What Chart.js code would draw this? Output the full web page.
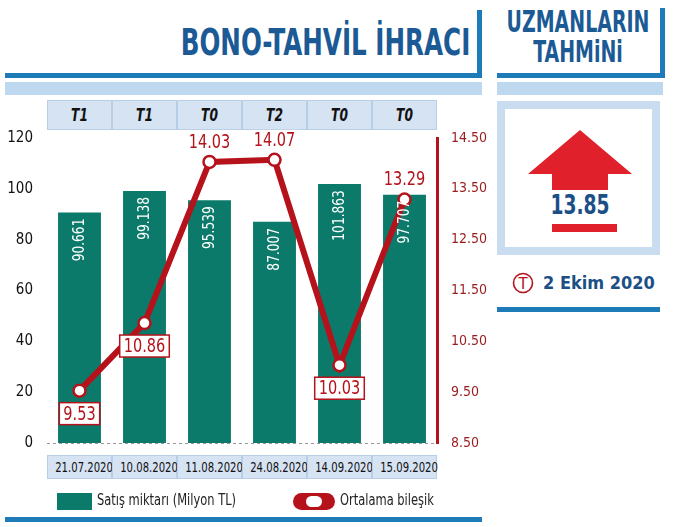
<!DOCTYPE html>
<html><head><meta charset="utf-8">
<script src="https://cdn.jsdelivr.net/npm/chart.js@4"></script>
<style>
body{margin:0;width:675px;height:527px;position:relative;background:#fff;overflow:hidden;font-family:'DejaVu Sans Condensed','Roboto',sans-serif}
.a{position:absolute}
#c{position:absolute;left:0;top:0}
.title{color:#1b5a95;font-weight:bold;font-size:38px}
.cell{position:absolute;background:#d6e3f3;border:1px solid #b8cde6;box-sizing:border-box;text-align:center;white-space:nowrap}
.cell span{display:inline-block;transform:scaleX(0.8)}
</style></head><body>
<div class="a title" style="right:205px;top:20px;transform:scaleX(0.72);transform-origin:right center;white-space:nowrap">BONO-TAHVİL İHRACI</div>
<div class="a" style="left:5px;top:73px;width:477px;height:5px;background:#1d7bb8"></div>
<div class="a" style="left:477px;top:10px;width:5px;height:68px;background:#1d7bb8"></div>
<div class="a" style="left:5px;top:82px;width:477px;height:13px;background:#bdd8ef"></div>
<div class="a title" style="left:457px;top:6px;width:242px;text-align:center;font-size:31px;line-height:30px;transform:scaleX(0.68)">UZMANLARIN<br>TAHMiNi</div>
<div class="a" style="left:497px;top:73px;width:166px;height:5px;background:#1d7bb8"></div>
<div class="a" style="left:660px;top:8px;width:5px;height:70px;background:#1d7bb8"></div>
<div class="a" style="left:497px;top:82px;width:166px;height:13px;background:#bdd8ef"></div>
<div class="a" style="left:497px;top:101px;width:163px;height:154px;background:#c9dcf0"></div>
<div class="a" style="left:505px;top:109px;width:147px;height:138px;background:#fff"></div>
<svg class="a" style="left:528px;top:130px" width="104" height="110"><polygon points="52,0 104,44 80,44 80,60 24,60 24,44 0,44" fill="#e0202a"/><rect x="24" y="94" width="65" height="8" fill="#e0202a"/></svg>
<div class="a" style="left:528px;top:190px;width:104px;text-align:center;color:#1b4f86;font-weight:bold;font-size:26px;transform:scaleX(0.8)">13.85</div>
<svg class="a" style="left:512px;top:272px" width="22" height="22"><circle cx="11" cy="11" r="9.5" fill="none" stroke="#b5121b" stroke-width="1.6"/><text x="11" y="17" text-anchor="middle" font-size="15" fill="#b5121b" font-family="DejaVu Sans">T</text></svg>
<div class="a" style="left:543px;top:272px;color:#1b4f86;font-weight:bold;font-size:18px">2 Ekim 2020</div>
<div class="a" style="left:497px;top:307px;width:163px;height:5px;background:#1d7bb8"></div>
<div id="cells"></div>
<canvas id="c" width="675" height="527"></canvas>
<div class="a" style="left:57px;top:493px;width:35px;height:17px;background:#0b7a6a"></div>
<div class="a" style="left:97px;top:491px;font-size:15px;color:#222;transform:scaleX(0.85);transform-origin:left;white-space:nowrap">Satış miktarı (Milyon TL)</div>
<div class="a" style="left:293px;top:493px;width:42px;height:17px;border-radius:9px;background:#b5121b"></div>
<div class="a" style="left:306px;top:496px;width:16px;height:11px;border-radius:6px;background:#fff"></div>
<div class="a" style="left:340px;top:491px;font-size:15px;color:#222;transform:scaleX(0.85);transform-origin:left;white-space:nowrap">Ortalama bileşik</div>
<div class="a" style="left:5px;top:517px;width:477px;height:5px;background:#1d7bb8"></div>
<script>
const dates = ['21.07.2020','10.08.2020','11.08.2020','24.08.2020','14.09.2020','15.09.2020'];
const terms = ['T1','T1','T0','T2','T0','T0'];
const sales = [90.661, 99.138, 95.539, 87.007, 101.863, 97.707];
const rates = [9.53, 10.86, 14.03, 14.07, 10.03, 13.29];
const leftTicks = [0, 20, 40, 60, 80, 100, 120];
const rightTicks = [8.5, 9.5, 10.5, 11.5, 12.5, 13.5, 14.5];

const font = "'DejaVu Sans Condensed','Roboto',sans-serif";
const RED = '#b5121b';

const cellsPlugin = {
  id: 'cells',
  afterLayout(ch) {
    const a = ch.chartArea, w = (a.right - a.left) / dates.length;
    let html = '';
    dates.forEach((d, i) => {
      const l = a.left + i * w;
      html += `<div class="cell" style="left:${l}px;top:455px;width:${w}px;height:24px;font-size:14px;line-height:22px;color:#111"><span>${d}</span></div>`;
      html += `<div class="cell" style="left:${l}px;top:100px;width:${w}px;height:30px;font-size:17px;line-height:28px;font-weight:bold;font-style:italic;color:#111"><span>${terms[i]}</span></div>`;
    });
    document.getElementById('cells').innerHTML = html;
  },
  afterDatasetsDraw(ch) {
    const g = ch.ctx;
    const a = ch.chartArea;
    g.save();
    g.setLineDash([3, 3]); g.strokeStyle = '#999'; g.lineWidth = 1;
    g.beginPath(); g.moveTo(a.left, a.bottom + 0.5); g.lineTo(a.right, a.bottom + 0.5); g.stroke();
    g.setLineDash([]);
    const bars = ch.getDatasetMeta(0).data;
    g.fillStyle = '#fff'; g.font = `16px ${font}`; g.textAlign = 'right'; g.textBaseline = 'middle';
    bars.forEach((b, i) => {
      g.save(); g.translate(b.x, b.y + 6); g.rotate(-Math.PI / 2); g.scale(0.85, 1);
      g.fillText(sales[i].toFixed(3), 0, 0); g.restore();
    });
    const pts = ch.getDatasetMeta(1).data;
    g.font = `19px ${font}`; g.textAlign = 'center';
    pts.forEach((p, i) => {
      const t = rates[i].toFixed(2);
      const boxed = i === 0 || i === 1 || i === 4;
      const y = boxed ? p.y + 23 : p.y - 20;
      const w = g.measureText(t).width * 0.85 + 8;
      if (boxed) {
        g.fillStyle = '#fff'; g.strokeStyle = RED; g.lineWidth = 1.5;
        g.fillRect(p.x - w / 2, y - 11, w, 22); g.strokeRect(p.x - w / 2, y - 11, w, 22);
      } else {
        g.fillStyle = 'rgba(255,255,255,0.85)';
        g.fillRect(p.x - w / 2, y - 10, w, 20);
      }
      g.save(); g.translate(p.x, y + 1); g.scale(0.85, 1);
      g.fillStyle = RED; g.fillText(t, 0, 0); g.restore();
    });
    g.restore();
  }
};

new Chart(document.getElementById('c'), {
  data: {
    labels: dates,
    datasets: [
      { type: 'bar', data: sales, backgroundColor: '#0b7a6a', barPercentage: 0.66, categoryPercentage: 1, yAxisID: 'y', order: 2 },
      { type: 'line', data: rates, borderColor: RED, borderWidth: 6, tension: 0, yAxisID: 'y1', order: 1,
        pointRadius: 6, pointBackgroundColor: '#fff', pointBorderColor: RED, pointBorderWidth: 2.5 }
    ]
  },
  options: {
    responsive: false, animation: false,
    layout: { padding: { left: 5, right: 183, top: 138, bottom: 84 } },
    plugins: { legend: { display: false }, tooltip: { enabled: false } },
    scales: {
      x: { display: false, offset: true },
      y: {
        min: 0, max: 120, position: 'left',
        afterFit: (s) => { s.width = 42; },
        afterBuildTicks: (s) => { s.ticks = leftTicks.map((v) => ({ value: v })); },
        grid: { display: false }, border: { display: false },
        ticks: { color: '#111', font: { family: font, size: 15 }, padding: 6 }
      },
      y1: {
        min: 8.5, max: 14.5, position: 'right',
        afterFit: (s) => { s.width = 55; },
        afterBuildTicks: (s) => { s.ticks = rightTicks.map((v) => ({ value: v })); },
        grid: { display: false, drawOnChartArea: false },
        border: { display: true, color: RED, width: 3 },
        ticks: { color: '#9b1c1f', font: { family: font, size: 14 }, padding: 6, callback: (v) => v.toFixed(2) }
      }
    }
  },
  plugins: [cellsPlugin]
});
</script>
</body></html>
